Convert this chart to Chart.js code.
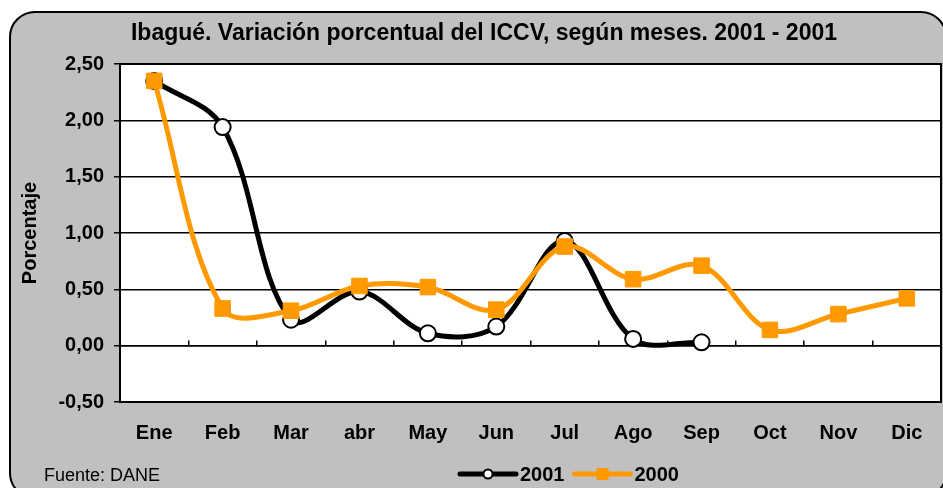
<!DOCTYPE html>
<html>
<head>
<meta charset="utf-8">
<title>Ibagué ICCV</title>
<script src="https://cdn.jsdelivr.net/npm/chart.js@4.4.1/dist/chart.umd.min.js"></script>
<style>
  html, body { margin: 0; padding: 0; background: #fff; }
  canvas { display: block; }
</style>
</head>
<body>
<canvas id="iccvChart" width="943" height="488"></canvas>
<script>
// meses y variaciones (%) del ICCV
const meses = ['Ene', 'Feb', 'Mar', 'abr', 'May', 'Jun', 'Jul', 'Ago', 'Sep', 'Oct', 'Nov', 'Dic'];
const serie2001 = [2.35, 1.94, 0.23, 0.48, 0.11, 0.17, 0.93, 0.06, 0.03];
const serie2000 = [2.35, 0.33, 0.31, 0.53, 0.52, 0.32, 0.88, 0.59, 0.71, 0.14, 0.28, 0.42];
const yTicks = [-0.5, 0, 0.5, 1, 1.5, 2, 2.5];

const NEGRO = '#000000';
const NARANJA = '#ff9900';
const GRIS = '#c0c0c0';
const FUENTE = "'Liberation Sans', Arial, sans-serif";

Chart.defaults.font.family = FUENTE;
Chart.defaults.color = NEGRO;

// fondo gris redondeado y area blanca del grafico
const marco = {
    id: 'marco',
    beforeDraw(chart) {
        const { ctx, chartArea: a } = chart;
        ctx.save();
        ctx.fillStyle = '#ffffff';
        ctx.fillRect(0, 0, chart.width, chart.height);
        ctx.beginPath();
        ctx.roundRect(10, 12, 936, 486, 25);
        ctx.fillStyle = GRIS;
        ctx.fill();
        ctx.lineWidth = 2;
        ctx.strokeStyle = NEGRO;
        ctx.stroke();
        ctx.fillStyle = '#ffffff';
        ctx.fillRect(a.left, a.top, a.right - a.left, a.bottom - a.top);
        ctx.restore();
    },
    beforeDatasetsDraw(chart) {
        const { ctx, chartArea: a } = chart;
        ctx.save();
        ctx.lineWidth = 2;
        ctx.strokeStyle = NEGRO;
        ctx.strokeRect(a.left, a.top, a.right - a.left, a.bottom - a.top);
        ctx.restore();
    }
};

// leyenda con linea + marcador, y la fuente abajo a la izquierda
const leyenda = {
    id: 'leyenda',
    afterDraw(chart) {
        const ctx = chart.ctx;
        const y = 474;
        ctx.save();
        ctx.textBaseline = 'middle';
        ctx.font = '18px ' + FUENTE;
        ctx.fillStyle = NEGRO;
        ctx.fillText('Fuente: DANE', 44, 476);

        ctx.font = 'bold 20px ' + FUENTE;
        let x = 460;
        for (const ds of chart.data.datasets) {
            ctx.strokeStyle = ds.borderColor;
            ctx.lineWidth = 5;
            ctx.lineCap = 'round';
            ctx.beginPath();
            ctx.moveTo(x, y);
            ctx.lineTo(x + 56, y);
            ctx.stroke();
            const cx = x + 28;
            if (ds.pointStyle === 'rect') {
                ctx.fillStyle = ds.pointBackgroundColor;
                ctx.fillRect(cx - 6, y - 6, 12, 12);
            } else {
                ctx.beginPath();
                ctx.arc(cx, y, 4.5, 0, Math.PI * 2);
                ctx.fillStyle = ds.pointBackgroundColor;
                ctx.fill();
                ctx.lineWidth = 2;
                ctx.strokeStyle = ds.pointBorderColor;
                ctx.stroke();
            }
            ctx.fillStyle = NEGRO;
            ctx.fillText(ds.label, x + 60, y + 1);
            x += 60 + ctx.measureText(ds.label).width + 10;
        }
        ctx.restore();
    }
};

const ctx = document.getElementById('iccvChart').getContext('2d');
new Chart(ctx, {
    type: 'line',
    data: {
        labels: meses,
        datasets: [{
            label: '2001',
            data: serie2001,
            order: 1,
            xAxisID: 'x',
            borderColor: NEGRO,
            borderWidth: 5,
            tension: 0.35,
            pointStyle: 'circle',
            pointRadius: 8,
            pointBorderWidth: 2,
            pointBackgroundColor: '#ffffff',
            pointBorderColor: NEGRO
        }, {
            label: '2000',
            data: serie2000,
            order: 0,
            xAxisID: 'x',
            borderColor: NARANJA,
            borderWidth: 5,
            tension: 0.35,
            pointStyle: 'rect',
            pointRadius: 11,
            pointBorderWidth: 1,
            pointBackgroundColor: NARANJA,
            pointBorderColor: NARANJA
        }]
    },
    options: {
        responsive: false,
        devicePixelRatio: 1,
        animation: false,
        layout: { autoPadding: false, padding: { left: 27, right: 2, top: 0, bottom: 0 } },
        plugins: {
            legend: { display: false },
            tooltip: { enabled: false },
            title: {
                display: true,
                text: 'Ibagué. Variación porcentual del ICCV, según meses. 2001 - 2001',
                color: NEGRO,
                font: { size: 23, weight: 'bold' },
                padding: { top: 20, bottom: 16.4 }
            }
        },
        scales: {
            x: {
                type: 'category',
                position: 'bottom',
                offset: true,
                grid: { display: false },
                border: { display: true, color: NEGRO, width: 2 },
                ticks: {
                    color: NEGRO,
                    font: { size: 20, weight: 'bold' },
                    padding: 11,
                    maxRotation: 0,
                    autoSkip: false
                },
                afterFit(s) { s.height = 86; }
            },
            cero: {
                type: 'category',
                axis: 'x',
                position: { y: 0 },
                labels: meses,
                offset: true,
                grid: {
                    offset: true,
                    drawOnChartArea: false,
                    drawTicks: true,
                    tickLength: -6,
                    color: NEGRO,
                    lineWidth: 1.5
                },
                border: { display: true, color: NEGRO, width: 1.5 },
                ticks: { display: false }
            },
            y: {
                position: 'left',
                min: -0.5,
                max: 2.5,
                afterBuildTicks(s) { s.ticks = yTicks.map(v => ({ value: v })); },
                grid: { color: NEGRO, lineWidth: 1.5, drawTicks: true, tickLength: 6 },
                border: { display: true, color: NEGRO, width: 2 },
                ticks: {
                    color: NEGRO,
                    font: { size: 20, weight: 'bold' },
                    padding: 10,
                    callback: v => v.toFixed(2).replace('.', ',')
                },
                title: {
                    display: true,
                    text: 'Porcentaje',
                    color: NEGRO,
                    font: { size: 20, weight: 'bold' },
                    padding: { top: -9, bottom: 0 }
                },
                afterFit(s) { s.width = 93; }
            }
        }
    },
    plugins: [marco, leyenda]
});
</script>
</body>
</html>
